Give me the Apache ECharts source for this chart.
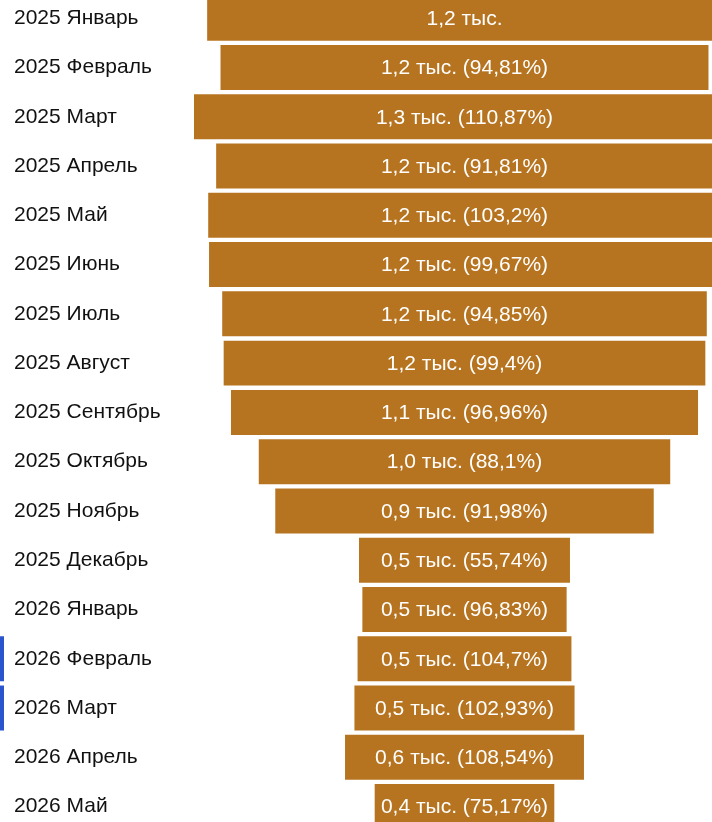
<!DOCTYPE html>
<html>
<head>
<meta charset="utf-8">
<script src="https://cdn.jsdelivr.net/npm/echarts@6/dist/echarts.min.js"></script>
<style>
  html, body { margin: 0; padding: 0; background: #ffffff; }
  #chart { width: 712px; height: 822px; }
</style>
</head>
<body>
<div id="chart"></div>
<script>
// Monthly totals, top to bottom
const categories = [
  '2025 Январь', '2025 Февраль', '2025 Март', '2025 Апрель', '2025 Май',
  '2025 Июнь', '2025 Июль', '2025 Август', '2025 Сентябрь', '2025 Октябрь',
  '2025 Ноябрь', '2025 Декабрь', '2026 Январь', '2026 Февраль', '2026 Март',
  '2026 Апрель', '2026 Май'
];
const values = [
  1240.00, 1175.64, 1303.43, 1196.68, 1234.97,
  1230.89, 1167.50, 1160.50, 1125.22, 991.32,
  911.82, 508.25, 492.14, 515.27, 530.37,
  575.66, 432.72
];
// Rows flagged with a marker at the left edge
const flagged = ['2026 Февраль', '2026 Март'];

const BAR_COLOR = '#b77420';
const FLAG_COLOR = '#2b55cf';
const FONT = '"Liberation Sans", Arial, sans-serif';
const FONT_SIZE = 21;

function fmtThousands(v) {
  return (v / 1000).toFixed(1).replace('.', ',') + ' тыс.';
}
function fmtPct(p) {
  return String(parseFloat(p.toFixed(2))).replace('.', ',') + '%';
}
function labelFor(i) {
  const base = fmtThousands(values[i]);
  if (i === 0) return base;
  return base + ' (' + fmtPct(values[i] / values[i - 1] * 100) + ')';
}

const chart = echarts.init(document.getElementById('chart'), null, { renderer: 'canvas' });

// Horizontal extent: bars are centred on 0, the view runs off to the right
const X_MIN = -1119.1;
const X_MAX = 596.3;

chart.setOption({
  animation: false,
  backgroundColor: '#ffffff',
  grid: {
    left: 0, top: -6.4, width: 712, height: 837.6,
    outerBoundsMode: 'none',
    containLabel: false
  },
  xAxis: {
    type: 'value',
    min: X_MIN,
    max: X_MAX,
    show: false
  },
  yAxis: {
    type: 'category',
    data: categories,
    inverse: true,
    axisLine: { show: false },
    axisTick: { show: false },
    splitLine: { show: false },
    axisLabel: {
      align: 'left',
      margin: -14,
      padding: [2, 0, 0, 0],
      color: '#111111',
      fontSize: FONT_SIZE,
      fontFamily: FONT
    }
  },
  series: [
    {
      type: 'custom',
      name: 'bars',
      clip: false,
      data: values.map((v, i) => [v, i]),
      encode: { x: 0, y: 1 },
      renderItem: function (params, api) {
        const v = api.value(0);
        const idx = api.value(1);
        const l = api.coord([-v / 2, idx]);
        const r = api.coord([v / 2, idx]);
        const band = api.size([0, 1])[1];
        const h = band * 0.913;
        return {
          type: 'group',
          children: [
            {
              type: 'rect',
              shape: { x: l[0], y: l[1] - h / 2, width: r[0] - l[0], height: h },
              style: { fill: BAR_COLOR }
            },
            {
              type: 'text',
              x: (l[0] + r[0]) / 2,
              y: l[1] + 1,
              style: {
                text: labelFor(params.dataIndex),
                fill: '#ffffff',
                font: FONT_SIZE + 'px ' + FONT,
                align: 'center',
                verticalAlign: 'middle'
              }
            }
          ]
        };
      }
    },
    {
      type: 'custom',
      name: 'flags',
      clip: false,
      data: flagged.map(c => [X_MIN, categories.indexOf(c)]),
      encode: { x: 0, y: 1 },
      renderItem: function (params, api) {
        const p = api.coord([api.value(0), api.value(1)]);
        const band = api.size([0, 1])[1];
        const h = band * 0.913;
        return {
          type: 'rect',
          shape: { x: p[0], y: p[1] - h / 2, width: 4, height: h },
          style: { fill: FLAG_COLOR }
        };
      }
    }
  ]
});
</script>
</body>
</html>
